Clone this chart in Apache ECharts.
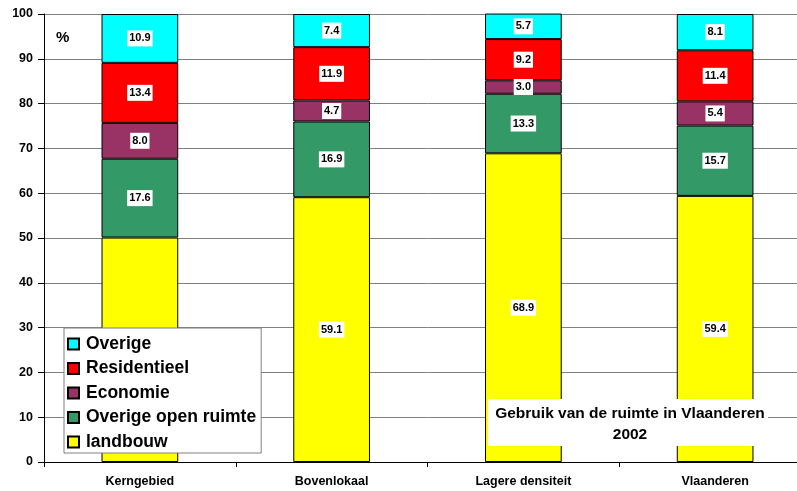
<!DOCTYPE html>
<html>
<head>
<meta charset="utf-8">
<script src="https://cdn.jsdelivr.net/npm/echarts@6/dist/echarts.min.js"></script>
<style>
  html, body { margin: 0; padding: 0; background: #fff; overflow: hidden; }
  #chart { width: 811px; height: 491px; }
</style>
</head>
<body>
<div id="chart"></div>
<script>
const categories = ['Kerngebied', 'Bovenlokaal', 'Lagere densiteit', 'Vlaanderen'];
const landbouw = [50.1, 59.1, 68.9, 59.4];
const openRuimte = [17.6, 16.9, 13.3, 15.7];
const economie = [8.0, 4.7, 3.0, 5.4];
const residentieel = [13.4, 11.9, 9.2, 11.4];
const overige = [10.9, 7.4, 5.7, 8.1];

const font = '"Liberation Sans", Arial, sans-serif';

const makeSeries = (name, data, color) => ({
    name,
    type: 'bar',
    stack: 'total',
    data,
    barWidth: '40%',
    itemStyle: { color, borderColor: '#000', borderWidth: 1 },
    label: {
        show: true,
        position: 'inside',
        formatter: p => p.value.toFixed(1),
        fontFamily: font,
        fontWeight: 'bold',
        fontSize: 11,
        color: '#000',
        backgroundColor: '#fff',
        padding: [3, 2, 2, 2]
    },
    emphasis: { disabled: true }
});

const chart = echarts.init(document.getElementById('chart'));
chart.setOption({
    animation: false,
    grid: { left: 44, right: 0, top: 14, bottom: 29, containLabel: false },
    legend: {
        orient: 'vertical',
        left: 64,
        top: 328,
        data: ['Overige', 'Residentieel', 'Economie', 'Overige open ruimte', 'landbouw'],
        backgroundColor: '#fff',
        borderColor: '#808080',
        borderWidth: 1,
        padding: [7, 5, 2, 3],
        itemGap: 6.5,
        itemWidth: 11,
        itemHeight: 11,
        icon: 'rect',
        textStyle: { fontFamily: font, fontWeight: 'bold', fontSize: 17.5, color: '#000', padding: [0, 0, 0, 2] },
        selectedMode: false
    },
    xAxis: {
        type: 'category',
        data: categories,
        axisLine: { lineStyle: { color: '#000' } },
        axisTick: { show: true, length: 5, inside: false, lineStyle: { color: '#000' } },
        axisLabel: { fontFamily: font, fontWeight: 'bold', fontSize: 12.5, color: '#000', margin: 13 }
    },
    yAxis: {
        type: 'value',
        min: 0,
        max: 100,
        interval: 10,
        axisLine: { show: true, lineStyle: { color: '#000' } },
        axisTick: { show: true, length: 6, lineStyle: { color: '#000' } },
        axisLabel: { fontFamily: font, fontWeight: 'bold', fontSize: 12.5, color: '#000', margin: 11 },
        splitLine: { lineStyle: { color: '#808080', width: 1 } }
    },
    series: [
        makeSeries('landbouw', landbouw, '#FFFF00'),
        makeSeries('Overige open ruimte', openRuimte, '#339966'),
        makeSeries('Economie', economie, '#993366'),
        makeSeries('Residentieel', residentieel, '#FF0000'),
        makeSeries('Overige', overige, '#00FFFF')
    ],
    graphic: [
        {
            type: 'text',
            left: 56,
            top: 30,
            style: { text: '%', fontFamily: font, fontWeight: 'bold', fontSize: 15, fill: '#000' }
        },
        {
            type: 'rect',
            shape: { x: 488, y: 399, width: 280, height: 47 },
            style: { fill: '#fff' },
            z: 10
        },
        {
            type: 'text',
            x: 630,
            y: 403,
            z: 11,
            style: {
                text: 'Gebruik van de ruimte in Vlaanderen\n2002',
                fontFamily: font,
                fontWeight: 'bold',
                fontSize: 15.5,
                lineHeight: 21,
                align: 'center',
                verticalAlign: 'top',
                fill: '#000'
            }
        }
    ]
});
</script>
</body>
</html>
